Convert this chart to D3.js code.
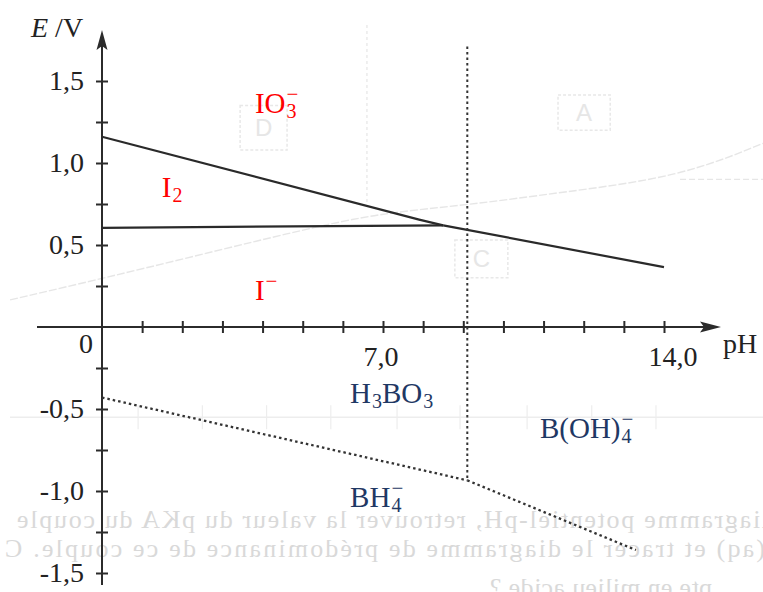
<!DOCTYPE html>
<html>
<head>
<meta charset="utf-8">
<script src="https://cdn.jsdelivr.net/npm/d3@7"></script>
<style>
  body { margin: 0; background: #fff; }
  svg { display: block; }
</style>
</head>
<body>
<svg id="svg-pourbaix"></svg>
<script>
// iodine frontiers (pH, E in V)
const io3I2 = [[0, 1.16], [7.9, 0.655], [8.5, 0.62]];
const i2Iminus = [[0, 0.605], [8.5, 0.62]];
const io3Iminus = [[8.5, 0.62], [14, 0.365]];
// boron frontiers (dotted)
const boricBH4 = [[0, -0.43], [9.1, -0.935]];
const borateBH4 = [[9.1, -0.935], [13.3, -1.36]];
const pKa = 9.1;
const pKaTop = 1.71;

const xTicks = [1, 2, 3, 4, 5, 6, 7, 8, 9, 10, 11, 12, 13, 14];
const xLabels = [[0, "0"], [7, "7,0"], [14, "14,0"]];
const yTicks = [-1.5, -1.25, -1, -0.75, -0.5, -0.25, 0.25, 0.5, 0.75, 1, 1.25, 1.5];
const yLabels = [-1.5, -1, -0.5, 0.5, 1, 1.5];

// species labels: pH, E, [main, sub, sup]
const iodineSpecies = [
    { ph: 3.81, e: 1.305, parts: [["IO", "3", "\u2212"]] },
    { ph: 1.49, e: 0.793, parts: [["I", "2", null]] },
    { ph: 3.81, e: 0.165, parts: [["I", null, "\u2212"]] }
];
const boronSpecies = [
    { ph: 6.18, e: -0.463, parts: [["H", "3", null], ["BO", "3", null]] },
    { ph: 10.91, e: -0.677, parts: [["B(OH)", "4", "\u2212"]] },
    { ph: 6.18, e: -1.098, parts: [["BH", "4", "\u2212"]] }
];

// faint show-through from the scanned page
const ghostCurve = [[-2.29, 0.165], [0.95, 0.35], [4.93, 0.59], [6.93, 0.695], [9.17, 0.745],
    [11.41, 0.82], [14.4, 0.915], [16.47, 1.12]];
const ghostBranch = [[14.4, 0.9], [16.5, 0.9]];
const ghostRuleE = -0.55;
const ghostRuleTicks = [0.9, 2.5, 4.1, 5.7, 7.35, 8.92, 10.59, 12.2, 13.8];
const ghostBoxes = [
    { x0: 3.44, x1: 4.61, e0: 1.35, e1: 1.08, t: "D" },
    { x0: 11.36, x1: 12.66, e0: 1.415, e1: 1.2, t: "A" },
    { x0: 8.79, x1: 10.11, e0: 0.53, e1: 0.3, t: "C" }
];
const ghostText = [
    { x: 775, y: 528, len: 758, t: "diagramme potentiel-pH, retrouver la valeur du pKA du couple" },
    { x: 765, y: 557, len: 760, t: "(aq) et tracer le diagramme de prédominance de ce couple. C" },
    { x: 712, y: 596, len: 222, t: "pte en milieu acide ?" }
];

const width = 763, height = 592;
const svg = d3.select("#svg-pourbaix").attr("width", width).attr("height", height);
const serif = "'Liberation Serif', 'Times New Roman', serif";
const ink = "#2b2b2b";
const red = "#ff0000", navy = "#1f3864";

const x = d3.scaleLinear().domain([0, 14]).range([102, 664]);
const y = d3.scaleLinear().domain([-1.5, 1.5]).range([573, 81]);
const line = d3.line().x(d => x(d[0])).y(d => y(d[1]));

// ghost layer
const ghost = svg.append("g").attr("stroke", "#e6e6e6").attr("fill", "none");
ghost.append("path").attr("d", line.curve(d3.curveBasis)(ghostCurve)).attr("stroke-width", 1.4)
    .attr("stroke-dasharray", "8,2");
line.curve(d3.curveLinear);
ghost.append("path").attr("d", line(ghostBranch)).attr("stroke-width", 1.2).attr("stroke-dasharray", "6,3");
ghost.append("line").attr("x1", x(6.6)).attr("x2", x(6.6)).attr("y1", 25).attr("y2", 205)
    .attr("stroke-width", 1.2).attr("stroke-dasharray", "3,3");
ghost.append("line").attr("x1", 10).attr("x2", width).attr("y1", y(ghostRuleE)).attr("y2", y(ghostRuleE))
    .attr("stroke", "#ededed").attr("stroke-width", 1.5);
ghost.selectAll(".gtick").data(ghostRuleTicks).enter().append("line")
    .attr("x1", d => x(d)).attr("x2", d => x(d))
    .attr("y1", y(ghostRuleE) - 12).attr("y2", y(ghostRuleE) + 12)
    .attr("stroke", "#ededed").attr("stroke-width", 1.2);
ghost.selectAll(".gbox").data(ghostBoxes).enter().append("rect")
    .attr("x", d => x(d.x0)).attr("y", d => y(d.e0))
    .attr("width", d => x(d.x1) - x(d.x0)).attr("height", d => y(d.e1) - y(d.e0))
    .attr("stroke", "#e8e8e8").attr("stroke-width", 1.5).attr("stroke-dasharray", "3,2");
svg.selectAll(".gletter").data(ghostBoxes).enter().append("text")
    .attr("x", d => (x(d.x0) + x(d.x1)) / 2).attr("y", d => (y(d.e0) + y(d.e1)) / 2 + 8)
    .attr("text-anchor", "middle").attr("font-family", "'Liberation Sans', sans-serif")
    .attr("font-size", 24).attr("fill", "#e6e6e6").text(d => d.t);
ghostText.forEach(d => {
    svg.append("g").attr("transform", `translate(${d.x},0) scale(-1,1)`)
        .append("text").attr("x", 0).attr("y", d.y)
        .attr("font-family", serif).attr("font-size", 26).attr("fill", "#d9d9d9")
        .attr("textLength", d.len).attr("lengthAdjust", "spacing")
        .text(d.t);
});

// axes
const yAxis = svg.append("g").attr("transform", `translate(${x(0)},0)`)
    .call(d3.axisLeft(y).tickValues(yTicks).tickSizeInner(6).tickSizeOuter(0)
        .tickFormat(v => yLabels.includes(v) ? (v < 0 ? "-" : "") + Math.abs(v).toFixed(1).replace(".", ",") : ""));
yAxis.select(".domain").remove();
yAxis.selectAll(".tick line").attr("x1", 6).attr("x2", -6).attr("stroke", ink).attr("stroke-width", 2);
yAxis.selectAll(".tick text").attr("x", -18).attr("font-family", serif).attr("font-size", 28).attr("fill", "#222");

const xAxis = svg.append("g").attr("transform", `translate(0,${y(0)})`)
    .call(d3.axisBottom(x).tickValues(xTicks).tickSizeInner(6).tickSizeOuter(0).tickFormat(""));
xAxis.select(".domain").remove();
xAxis.selectAll(".tick line").attr("y1", -6).attr("y2", 6).attr("stroke", ink).attr("stroke-width", 2);

svg.append("line").attr("x1", x(0)).attr("x2", x(0)).attr("y1", 585).attr("y2", 40)
    .attr("stroke", ink).attr("stroke-width", 2);
svg.append("path").attr("d", `M${x(0)},30 L${x(0) - 5.5},50 L${x(0)},46 L${x(0) + 5.5},50 Z`).attr("fill", ink);
svg.append("line").attr("x1", 37).attr("x2", 712).attr("y1", y(0)).attr("y2", y(0))
    .attr("stroke", ink).attr("stroke-width", 2);
svg.append("path").attr("d", `M721,${y(0)} L700,${y(0) - 5.5} L704,${y(0)} L700,${y(0) + 5.5} Z`).attr("fill", ink);

const labels = svg.append("g").attr("font-family", serif).attr("font-size", 28).attr("fill", "#222");
const xOff = { "0": [-16, 26], "7,0": [-2, 39], "14,0": [9, 39] };
xLabels.forEach(([v, t]) => {
    labels.append("text").attr("x", x(v) + xOff[t][0]).attr("y", y(0) + xOff[t][1])
        .attr("text-anchor", "middle").text(t);
});
labels.append("text").attr("x", 723).attr("y", y(0) + 26).text("pH");
const eLabel = labels.append("text").attr("x", 31).attr("y", 37);
eLabel.append("tspan").attr("font-style", "italic").text("E");
eLabel.append("tspan").text(" /V");

// frontiers
const frontiers = svg.append("g").attr("fill", "none").attr("stroke-linejoin", "round");
[io3I2, i2Iminus, io3Iminus].forEach(seg => {
    frontiers.append("path").attr("d", line(seg)).attr("stroke", "#2a2a2a").attr("stroke-width", 2.2);
});
[boricBH4, borateBH4].forEach(seg => {
    frontiers.append("path").attr("d", line(seg)).attr("stroke", "#333")
        .attr("stroke-width", 2.3).attr("stroke-dasharray", "2.5,3");
});
frontiers.append("line").attr("x1", x(pKa)).attr("x2", x(pKa))
    .attr("y1", y(pKaTop)).attr("y2", y(boricBH4[1][1]))
    .attr("stroke", "#333").attr("stroke-width", 2).attr("stroke-dasharray", "2.5,3");

// species
function chem(sp, color) {
    const g = svg.append("g").attr("font-family", serif).attr("fill", color);
    let cx = x(sp.ph);
    const by = y(sp.e);
    sp.parts.forEach(([main, sub, sup]) => {
        const t = g.append("text").attr("x", cx).attr("y", by).attr("font-size", 29).text(main);
        cx += t.node().getComputedTextLength();
        let w = 0;
        if (sub) {
            const s = g.append("text").attr("x", cx + 1).attr("y", by + 5).attr("font-size", 20).text(sub);
            w = s.node().getComputedTextLength() + 1;
        }
        if (sup) {
            const s = g.append("text").attr("x", cx + 1).attr("y", by - 12).attr("font-size", 21).text(sup);
            w = Math.max(w, s.node().getComputedTextLength() + 1);
        }
        cx += w;
    });
}
iodineSpecies.forEach(sp => chem(sp, red));
boronSpecies.forEach(sp => chem(sp, navy));
</script>
</body>
</html>
